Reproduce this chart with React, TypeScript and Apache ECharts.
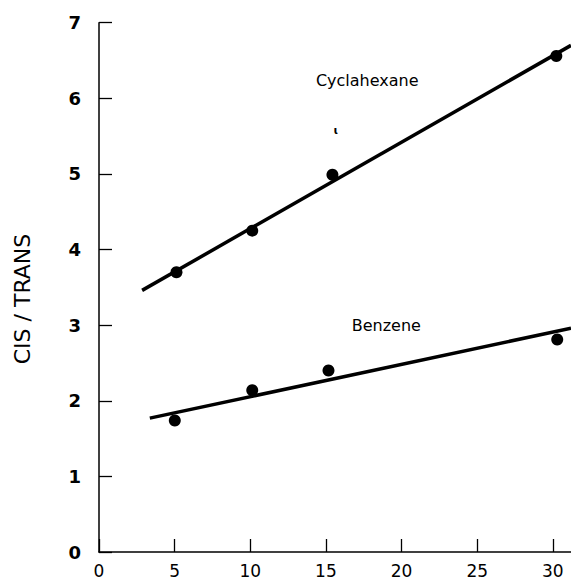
import React, { useEffect, useRef } from "react";
import * as echarts from "echarts";

const xTicks = [0, 5, 10, 15, 20, 25, 30];
const yTicks = [0, 1, 2, 3, 4, 5, 6, 7];

const cyclohexaneX = [5.12, 10.13, 15.43, 30.23];
const cyclohexaneY = [3.7, 4.25, 4.99, 6.56];
const benzeneX = [5.01, 10.13, 15.17, 30.29];
const benzeneY = [1.74, 2.14, 2.4, 2.81];

// fitted straight lines (end points)
const cyclohexaneFitX = [2.85, 31.2];
const cyclohexaneFitY = [3.46, 6.7];
const benzeneFitX = [3.36, 31.2];
const benzeneFitY = [1.77, 2.96];

const labels = [
  { text: "Cyclahexane", x: 17.73, y: 6.24, size: 16 },
  { text: "Benzene", x: 18.99, y: 3.0, size: 16 },
  { text: "ɩ", x: 15.66, y: 5.58, size: 11 },
];

const yAxisTitle = "CIS / TRANS";

const zip = (xs: number[], ys: number[]) => xs.map((x, i) => [x, ys[i]]);

export default function App() {
  const ref = useRef<HTMLDivElement>(null);
  useEffect(() => {
    if (!ref.current) return;
    const chart = echarts.init(ref.current, null, { renderer: "svg" });
    const font = "DejaVu Sans, Liberation Sans, sans-serif";
    chart.setOption({
      animation: false,
      backgroundColor: "#ffffff",
      grid: { left: 99, right: 0, top: 22.7, bottom: 26.5, containLabel: false },
      graphic: [
        {
          type: "text",
          x: 22,
          y: 299,
          rotation: Math.PI / 2,
          style: {
            text: yAxisTitle,
            fill: "#000",
            fontSize: 22,
            fontFamily: font,
            align: "center",
            verticalAlign: "middle",
          },
        },
      ],
      xAxis: {
        type: "value",
        min: 0,
        max: 31.2,
        interval: 5,
        axisLine: { show: true, lineStyle: { color: "#000", width: 1.5 } },
        axisTick: {
          show: true,
          inside: true,
          length: 13,
          customValues: xTicks,
          lineStyle: { color: "#000", width: 1.3 },
        },
        axisLabel: {
          customValues: xTicks,
          margin: 10,
          color: "#000",
          fontSize: 17,
          fontFamily: font,
        },
        splitLine: { show: false },
      },
      yAxis: {
        type: "value",
        min: 0,
        max: 7,
        interval: 1,
        axisLine: { show: true, lineStyle: { color: "#000", width: 1.5 } },
        axisTick: {
          show: true,
          inside: true,
          length: 13,
          customValues: yTicks,
          lineStyle: { color: "#000", width: 1.3 },
        },
        axisLabel: {
          margin: 18,
          color: "#000",
          fontSize: 18,
          fontWeight: "bold",
          fontFamily: font,
        },
        splitLine: { show: false },
      },
      series: [
        {
          name: "Cyclohexane fit",
          type: "line",
          data: zip(cyclohexaneFitX, cyclohexaneFitY),
          showSymbol: false,
          lineStyle: { color: "#000", width: 3.5 },
          z: 2,
        },
        {
          name: "Benzene fit",
          type: "line",
          data: zip(benzeneFitX, benzeneFitY),
          showSymbol: false,
          lineStyle: { color: "#000", width: 3.5 },
          z: 2,
        },
        {
          name: "Cyclohexane",
          type: "scatter",
          data: zip(cyclohexaneX, cyclohexaneY),
          symbolSize: 12,
          itemStyle: { color: "#000", opacity: 1 },
          z: 3,
        },
        {
          name: "Benzene",
          type: "scatter",
          data: zip(benzeneX, benzeneY),
          symbolSize: 12,
          itemStyle: { color: "#000", opacity: 1 },
          z: 3,
        },
        {
          name: "labels",
          type: "scatter",
          data: labels.map((l) => ({
            value: [l.x, l.y],
            label: {
              show: true,
              formatter: l.text,
              position: "inside",
              color: "#000",
              fontSize: l.size,
              fontWeight: l.text === "ɩ" ? "bold" : "normal",
              fontFamily: font,
            },
          })),
          symbolSize: 1,
          itemStyle: { color: "rgba(0,0,0,0)", opacity: 1 },
          silent: true,
          z: 4,
        },
      ],
    });
    return () => chart.dispose();
  }, []);
  return (
    <div
      ref={ref}
      style={{ position: "fixed", left: 0, top: 0, width: 571, height: 579 }}
    />
  );
}
